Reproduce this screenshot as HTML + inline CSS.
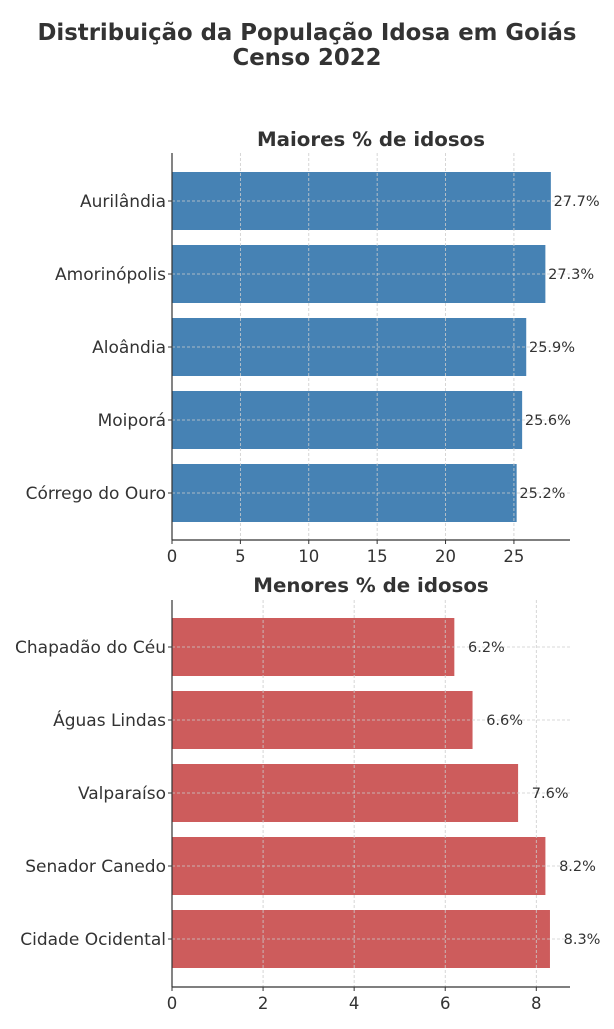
<!DOCTYPE html>
<html><head><meta charset="utf-8"><style>
body{margin:0;background:#fff;}
svg text{font-family:"DejaVu Sans","Liberation Sans",sans-serif;fill:#333;}
</style></head><body>
<svg id="c" width="614" height="1024" xmlns="http://www.w3.org/2000/svg">
<text x="307" y="40" text-anchor="middle" font-size="22.8" font-weight="bold">Distribuição da População Idosa em Goiás</text>
<text x="307" y="65" text-anchor="middle" font-size="22.8" font-weight="bold">Censo 2022</text>
</svg>
<script>
const topCats=["Aurilândia","Amorinópolis","Aloândia","Moiporá","Córrego do Ouro"];
const topVals=[27.7,27.3,25.9,25.6,25.2];
const topTicks=[0,5,10,15,20,25];
const botCats=["Chapadão do Céu","Águas Lindas","Valparaíso","Senador Canedo","Cidade Ocidental"];
const botVals=[6.2,6.6,7.6,8.2,8.3];
const botTicks=[0,2,4,6,8];
const NS="http://www.w3.org/2000/svg";
const svg=document.getElementById('c');
function mk(tag,attrs,parent){const e=document.createElementNS(NS,tag);for(const k in attrs)e.setAttribute(k,attrs[k]);(parent||svg).appendChild(e);return e;}
function panel(cfg){
  const g=mk('g',{});
  
  
  const x=v=>cfg.x0+v*(cfg.x1-cfg.x0)/cfg.max;
  const y=i=>cfg.yc0+i*cfg.step;
  const t=mk('text',{x:(cfg.x0+cfg.x1)/2,y:cfg.titleY,'text-anchor':'middle','font-size':19.8,'font-weight':'bold'},g);
  t.textContent=cfg.title;
  
  
  cfg.vals.forEach((v,i)=>{
    const r=mk('rect',{x:cfg.x0,y:y(i)-29,width:x(v)-cfg.x0,height:58,fill:cfg.color},g);
    
    
  });
  cfg.ticks.forEach(tv=>{
    const l=mk('line',{x1:x(tv),x2:x(tv),y1:cfg.top,y2:cfg.bottom,stroke:'#ccc','stroke-dasharray':'3,2','stroke-width':0.8},g);
    
    
    mk('line',{x1:x(tv),x2:x(tv),y1:cfg.bottom,y2:cfg.bottom+4,stroke:'#333'},g);
    const tt=mk('text',{x:x(tv),y:cfg.bottom+22,'text-anchor':'middle','font-size':16.5},g);
    tt.textContent=tv;
    
    
  });
  cfg.cats.forEach((c,i)=>{
    const l=mk('line',{x1:cfg.x0,x2:cfg.x1,y1:y(i),y2:y(i),stroke:'#ccc','stroke-dasharray':'3,2','stroke-width':0.8},g);
    
    
    mk('line',{x1:cfg.x0-4,x2:cfg.x0,y1:y(i),y2:y(i),stroke:'#333'},g);
    const tt=mk('text',{x:cfg.x0-6,y:y(i)+6,'text-anchor':'end','font-size':17},g);
    tt.textContent=c;
    
    
    const vl=mk('text',{x:x(cfg.vals[i]+cfg.off),y:y(i)+5,'font-size':14.5},g);
    vl.textContent=cfg.vals[i].toFixed(1)+'%';
    
    
  });
  mk('line',{x1:cfg.x0,x2:cfg.x0,y1:cfg.top,y2:cfg.bottom,stroke:'#333','stroke-width':1.2},g);
  mk('line',{x1:cfg.x0,x2:cfg.x1,y1:cfg.bottom,y2:cfg.bottom,stroke:'#333','stroke-width':1.2},g);
}
panel({name:'top-panel',title:'Maiores % de idosos',titleY:146,cats:topCats,vals:topVals,ticks:topTicks,max:29.1,x0:172,x1:570,top:153,bottom:540,yc0:201,step:73,color:'#4682b4',off:0.2});
panel({name:'bottom-panel',title:'Menores % de idosos',titleY:592,cats:botCats,vals:botVals,ticks:botTicks,max:8.74,x0:172,x1:570,top:600,bottom:987,yc0:647,step:73,color:'#cd5c5c',off:0.3});
</script>
</body></html>
